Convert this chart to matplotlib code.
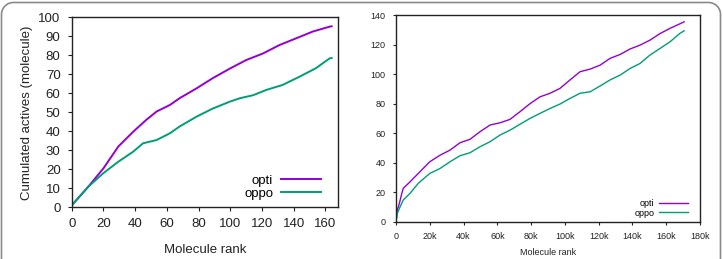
import matplotlib
matplotlib.use("Agg")
import numpy as np
import matplotlib.pyplot as plt
from matplotlib.lines import Line2D

plt.rcParams['font.family'] = ['Liberation Sans', 'DejaVu Sans']

PURPLE = '#9400d3'
GREEN = '#009e73'

# left panel: small set, rank 0..164
left_rank = [0, 10.5, 20, 29.4, 38.8, 47, 53.5, 62, 68, 78.7, 89, 99.7, 110,
             120.7, 131, 141.7, 152, 162.7, 164]
left_opti = [1, 10.9, 20.5, 32, 39.8, 46, 50.4, 53.9, 57.4, 62.6, 68, 73, 77.5,
             81, 85.4, 89, 92.5, 95.1, 95.3]
left_oppo_rank = [0, 10.5, 20, 29.4, 38.8, 45, 53.5, 62, 68, 78.7, 89, 99.7, 106,
                  114.4, 122.8, 133, 143.8, 154, 162.7, 164]
left_oppo = [1, 10.9, 18, 24, 29.3, 33.7, 35.4, 39, 42.5, 47.7, 52, 55.6, 57.4,
             59, 61.8, 64.4, 68.8, 73.2, 78.4, 78.6]

# right panel: large set, rank in molecules
right_rank = [0, 800, 2000, 3400, 4300, 8300, 13200, 20000, 26000, 32000, 37900,
              43800, 49800, 55700, 61600, 67500, 73400, 79400, 85300, 91200,
              97100, 103000, 109000, 115000, 120800, 126700, 132700, 138600,
              144500, 150400, 156400, 162300, 168000, 170600]
right_opti = [0, 7.9, 12.4, 19, 22.6, 27, 32.7, 40.6, 45, 48.5, 53.5, 55.8, 61,
              65.5, 67, 69.3, 74.5, 80, 84.6, 87, 90.3, 96, 101.6, 103.4, 106,
              110.6, 113.3, 117, 119.6, 123, 127.5, 131, 134, 135.4]
right_oppo_rank = [0, 800, 2000, 4300, 8300, 13200, 20000, 26000, 32000, 37900,
                   43800, 49800, 55700, 61600, 67500, 73400, 79400, 85300, 91200,
                   97100, 103000, 109000, 115000, 120800, 126700, 132700, 138600,
                   144500, 150400, 156400, 162300, 168000, 170600]
right_oppo = [0, 5.6, 9, 14.7, 19.2, 26, 32.7, 36, 40.6, 44.7, 46.7, 50.8, 54.2,
              58.7, 62, 66, 70, 73.4, 76.7, 79.7, 83.5, 87, 88, 91.9, 96, 99.3,
              103.8, 107.2, 112.9, 117.4, 121.9, 127.5, 129.3]

right_xticks = [0, 20000, 40000, 60000, 80000, 100000, 120000, 140000, 160000, 180000]
right_xlabels = ['0', '20k', '40k', '60k', '80k', '100k', '120k', '140k', '160k', '180k']


def style_axes(ax, fs, ticklen, pad):
    ax.tick_params(direction='out', length=ticklen, width=0.8, labelsize=fs,
                   top=False, right=False, colors='#222222', pad=pad)
    for sp in ax.spines.values():
        sp.set_linewidth(1.0)
        sp.set_color('#222222')


def panel_border(fig):
    # open-bottom rounded frame around the whole figure (inches)
    x0, x1, top, r = 0.015, 7.205, 2.565, 0.12
    t = np.linspace(0, np.pi / 2, 20)
    xs = [x0] + list(x0 + r - r * np.cos(t)) + list(x1 - r + r * np.sin(t)) + [x1]
    ys = [-0.2] + list(top - r + r * np.sin(t)) + list(top - r + r * np.cos(t)) + [-0.2]
    fig.add_artist(Line2D(xs, ys, transform=fig.dpi_scale_trans,
                          color='#8a8a8a', lw=1.2, clip_on=False))


fig = plt.figure(figsize=(7.23, 2.59), dpi=100)
panel_border(fig)

ax1 = fig.add_axes([0.0992, 0.1996, 0.3683, 0.7334])
ax1.plot(left_rank, left_opti, color=PURPLE, lw=1.4, label='opti')
ax1.plot(left_oppo_rank, left_oppo, color=GREEN, lw=1.4, label='oppo')
ax1.set_xlim(0, 168)
ax1.set_ylim(0, 100)
ax1.set_xticks(range(0, 161, 20))
ax1.set_yticks(range(0, 101, 10))
ax1.set_xlabel('Molecule rank', fontsize=9.5, color='#222222', labelpad=10)
ax1.set_ylabel('Cumulated actives (molecule)', fontsize=9.5, color='#222222', labelpad=4)
style_axes(ax1, 9.5, 3, 5)
ax1.legend(loc='lower right', bbox_to_anchor=(0.935, 0.04), frameon=False,
           markerfirst=False, fontsize=9.5, handlelength=3.0, handletextpad=0.6,
           labelspacing=0.05, borderaxespad=0, borderpad=0)

ax2 = fig.add_axes([0.5477, 0.144, 0.4205, 0.798])
ax2.plot(right_rank, right_opti, color=PURPLE, lw=1.0, label='opti')
ax2.plot(right_oppo_rank, right_oppo, color=GREEN, lw=1.0, label='oppo')
ax2.set_xlim(0, 180000)
ax2.set_ylim(0, 140)
ax2.set_xticks(right_xticks)
ax2.set_xticklabels(right_xlabels)
ax2.set_yticks(range(0, 141, 20))
ax2.set_xlabel('Molecule rank', fontsize=6.5, color='#222222', labelpad=5)
style_axes(ax2, 6.5, 2.5, 5)
ax2.legend(loc='lower right', bbox_to_anchor=(0.962, 0.02), frameon=False,
           markerfirst=False, fontsize=6.5, handlelength=3.3, handletextpad=0.5,
           labelspacing=0.05, borderaxespad=0, borderpad=0)

fig.savefig('out.png', dpi=100)
